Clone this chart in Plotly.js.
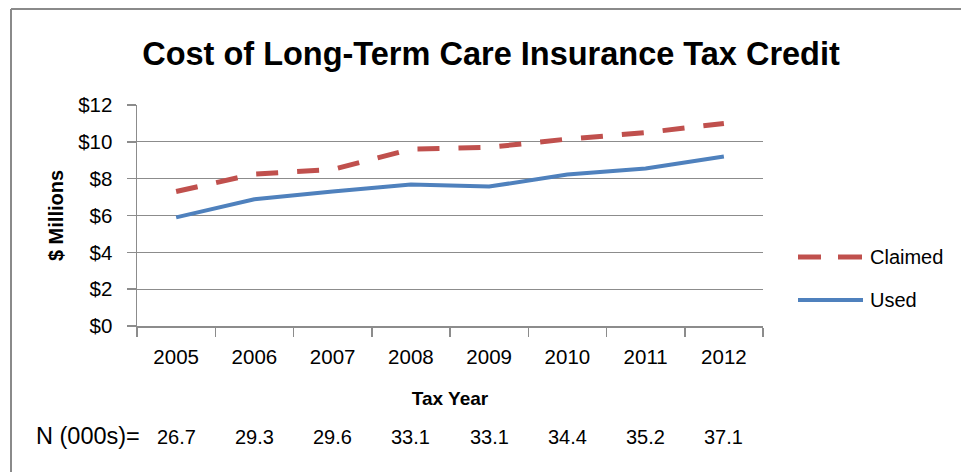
<!DOCTYPE html>
<html>
<head>
<meta charset="utf-8">
<script src="https://cdn.plot.ly/plotly-3.0.1.min.js"></script>
<style>
html,body{margin:0;padding:0;background:#fff;}
#chart{width:961px;height:472px;}
</style>
</head>
<body>
<div id="chart"></div>
<script>
// ---- data ----
var years = ["2005","2006","2007","2008","2009","2010","2011","2012"];
var claimed = [7.3, 8.25, 8.5, 9.6, 9.7, 10.15, 10.5, 11.0];
var used = [5.9, 6.88, 7.3, 7.68, 7.57, 8.22, 8.55, 9.2];
var nCounts = ["26.7","29.3","29.6","33.1","33.1","34.4","35.2","37.1"];
var nLabel = "N (000s)=";
var seriesNames = ["Claimed","Used"];
var titleText = "Cost of Long-Term Care Insurance Tax Credit";
var xTitle = "Tax Year";
var yTitle = "$ Millions";

var FONT = "Liberation Sans, Arial, sans-serif";
var RED = "#C0504D", BLUE = "#4F81BD", GRID = "#8C8C8C";

var traces = [
  {x: years, y: claimed, name: seriesNames[0], type: "scatter", mode: "lines",
   line: {color: RED, width: 5, dash: "22px,19px"}, showlegend: false, hoverinfo: "x+y"},
  {x: years, y: used, name: seriesNames[1], type: "scatter", mode: "lines",
   line: {color: BLUE, width: 4}, showlegend: false, hoverinfo: "x+y"}
];

var plotTop = 105, plotBot = 326, plotH = plotBot - plotTop;
function py(pix){ return (plotBot - pix) / plotH; }
var plotL = 137, plotR = 763, plotW = plotR - plotL;
function px(pix){ return (pix - plotL) / plotW; }

var annotations = [];
for (var i = 0; i < years.length; i++) {
  annotations.push({x: i, xref: "x", y: py(437), yref: "paper", text: nCounts[i],
    showarrow: false, font: {family: FONT, size: 20, color: "#000"}, xanchor: "center", yanchor: "middle"});
}
annotations.push({x: px(34), xref: "paper", y: py(436), yref: "paper", text: nLabel,
  showarrow: false, font: {family: FONT, size: 23.5, color: "#000"}, xanchor: "left", yanchor: "middle"});
// legend text
annotations.push({x: px(868), xref: "paper", y: py(257), yref: "paper", text: seriesNames[0],
  showarrow: false, font: {family: FONT, size: 20, color: "#000"}, xanchor: "left", yanchor: "middle"});
annotations.push({x: px(868), xref: "paper", y: py(300), yref: "paper", text: seriesNames[1],
  showarrow: false, font: {family: FONT, size: 20, color: "#000"}, xanchor: "left", yanchor: "middle"});

var shapes = [
  {type: "line", xref: "paper", yref: "paper", x0: px(11), x1: px(961), y0: py(9), y1: py(9),
   line: {color: "#8A8A8A", width: 2}},
  {type: "line", xref: "paper", yref: "paper", x0: px(11), x1: px(11), y0: py(9), y1: py(472),
   line: {color: "#8A8A8A", width: 2}},
  {type: "line", xref: "paper", yref: "paper", x0: px(798), x1: px(821), y0: py(257), y1: py(257),
   line: {color: RED, width: 5}},
  {type: "line", xref: "paper", yref: "paper", x0: px(838), x1: px(862), y0: py(257), y1: py(257),
   line: {color: RED, width: 5}},
  {type: "line", xref: "paper", yref: "paper", x0: px(798), x1: px(863), y0: py(300), y1: py(300),
   line: {color: BLUE, width: 4}}
];

var layout = {
  width: 961, height: 472,
  margin: {l: plotL, r: 961 - plotR, t: plotTop, b: 472 - plotBot, pad: 0},
  paper_bgcolor: "#fff", plot_bgcolor: "#fff",
  font: {family: FONT, size: 20, color: "#000"},
  title: {text: "<b>" + titleText + "</b>", font: {family: FONT, size: 32.5, color: "#000"},
          x: 491/961, xref: "container", xanchor: "center",
          y: 1 - 54/472, yref: "container", yanchor: "middle"},
  xaxis: {type: "category", range: [-0.5, 7.5], showgrid: false, zeroline: false,
          showline: true, linecolor: GRID, linewidth: 1.5,
          ticks: "outside", tickson: "boundaries", ticklen: 9, tickcolor: GRID, tickwidth: 1.5,
          tickfont: {family: FONT, size: 20.5, color: "#000"}, ticklabelstandoff: 12,
          title: {text: "<b>" + xTitle + "</b>", font: {family: FONT, size: 19, color: "#000"}, standoff: 24},
          fixedrange: true},
  yaxis: {range: [0, 12], dtick: 2, tick0: 0, tickprefix: "$", showgrid: true, gridcolor: GRID, gridwidth: 1.3,
          zeroline: false, showline: true, linecolor: GRID, linewidth: 1.5,
          ticks: "outside", ticklen: 9, tickcolor: GRID, tickwidth: 1.5,
          tickfont: {family: FONT, size: 20.5, color: "#000"}, ticklabelstandoff: 10,
          title: {text: "<b>" + yTitle + "</b>", font: {family: FONT, size: 20, color: "#000"}, standoff: 9},
          fixedrange: true},
  showlegend: false,
  annotations: annotations,
  shapes: shapes
};

Plotly.newPlot("chart", traces, layout, {displayModeBar: false, staticPlot: true});
</script>
</body>
</html>
